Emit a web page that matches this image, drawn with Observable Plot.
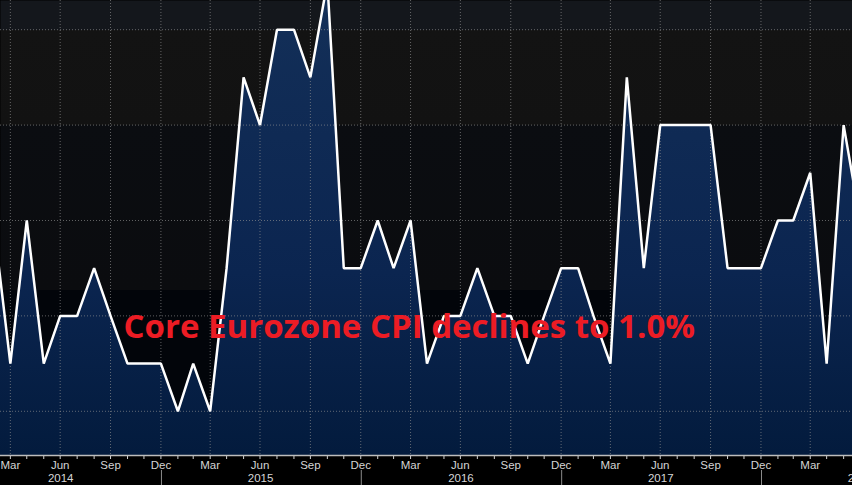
<!DOCTYPE html>
<html><head><meta charset="utf-8">
<script src="https://cdn.jsdelivr.net/npm/d3@7"></script>
<script src="https://cdn.jsdelivr.net/npm/@observablehq/plot@0.6"></script>
<style>html,body{margin:0;padding:0;background:#000;overflow:hidden} #chart svg{display:block}</style>
</head><body><div id="chart"></div>
<script>
// Monthly series (month-end readings)
const months = [
  "2014-02","2014-03","2014-04","2014-05","2014-06","2014-07","2014-08","2014-09","2014-10","2014-11","2014-12",
  "2015-01","2015-02","2015-03","2015-04","2015-05","2015-06","2015-07","2015-08","2015-09","2015-10","2015-11","2015-12",
  "2016-01","2016-02","2016-03","2016-04","2016-05","2016-06","2016-07","2016-08","2016-09","2016-10","2016-11","2016-12",
  "2017-01","2017-02","2017-03","2017-04","2017-05","2017-06","2017-07","2017-08","2017-09","2017-10","2017-11","2017-12",
  "2018-01","2018-02","2018-03","2018-04","2018-05","2018-06"
];
const values = [
  1.0, 0.7, 1.0, 0.7, 0.8, 0.8, 0.9, 0.8, 0.7, 0.7, 0.7,
  0.6, 0.7, 0.6, 0.9, 1.3, 1.2, 1.4, 1.4, 1.3, 1.5, 0.9, 0.9,
  1.0, 0.9, 1.0, 0.7, 0.8, 0.8, 0.9, 0.8, 0.8, 0.7, 0.8, 0.9,
  0.9, 0.8, 0.7, 1.3, 0.9, 1.2, 1.2, 1.2, 1.2, 0.9, 0.9, 0.9,
  1.0, 1.0, 1.1, 0.7, 1.2, 1.0
];
const monthNames = ["Jan","Feb","Mar","Apr","May","Jun","Jul","Aug","Sep","Oct","Nov","Dec"];
const quarterLabels = ["Mar","Jun","Sep","Dec"];
const years = ["2014","2015","2016","2017","2018"];
const gridValues = [0.6, 0.8, 1.0, 1.2, 1.4];
const title = "Core Eurozone CPI declines to 1.0%";

const monthEnd = s => { const [y, m] = s.split("-").map(Number); return new Date(Date.UTC(y, m, 0)); };
const data = months.map((m, i) => ({date: monthEnd(m), value: values[i]}));

const xDomain = [new Date(Date.UTC(2014, 2, 13)), new Date(Date.UTC(2018, 5, 16, 5))];
const yDomain = [0.5073, 1.4612];

const monthTicks = d3.utcMonths(new Date(Date.UTC(2014, 2, 1)), new Date(Date.UTC(2018, 5, 1)))
  .map(d => d3.utcDay.offset(d3.utcMonth.offset(d, 1), -1));
const quarterTicks = monthTicks.filter(d => quarterLabels.includes(monthNames[d.getUTCMonth()]));
const yearMid = years.map(y => ({year: y, date: new Date(Date.UTC(+y, 6, 1))}));
const yearStarts = years.slice(1).map(y => new Date(Date.UTC(+y, 0, 1)));

const gridStyle = {stroke: "#929292", strokeOpacity: 0.65, strokeDasharray: "1,2", strokeWidth: 1};

const chart = Plot.plot({
  width: 852, height: 485,
  marginTop: 0, marginRight: 0, marginLeft: 0, marginBottom: 30,
  style: {background: "#000", color: "#d4d4d4", fontFamily: "'Liberation Sans', Arial, sans-serif", fontSize: "11.5px"},
  x: {type: "utc", domain: xDomain, ticks: monthTicks, label: null,
      tickFormat: d => { const n = monthNames[d.getUTCMonth()]; return quarterLabels.includes(n) ? n : ""; },
      tickSize: 4, tickPadding: 1},
  y: {domain: yDomain, axis: null},
  marks: [
    Plot.frame({fill: "url(#bgGrad)", stroke: "none"}),
    Plot.areaY(data, {x: "date", y1: yDomain[0], y2: "value", fill: "url(#areaGrad)", clip: true}),
    Plot.ruleY(gridValues, gridStyle),
    Plot.ruleX(quarterTicks, gridStyle),
    Plot.lineY(data, {x: "date", y: "value", stroke: "#ffffff", strokeWidth: 2.5, strokeLinejoin: "miter", clip: true}),
    Plot.ruleY([yDomain[0]], {stroke: "#bdbdbd", strokeWidth: 1.5}),
    Plot.ruleX(yearStarts, {stroke: "#8a8a8a", insetTop: 470, insetBottom: -30}),
    Plot.text(yearMid, {x: "date", text: "year", frameAnchor: "bottom", dy: 23, fill: "#d6d6d6", fontSize: 11.5, lineAnchor: "middle"}),
    Plot.text([title], {frameAnchor: "top-left", dx: 123, dy: 327, text: d => d, textAnchor: "start", lineAnchor: "middle",
      fill: "#ec1c24", fontSize: 33, fontWeight: "bold", fontFamily: "'Open Sans', sans-serif"})
  ]
});

document.getElementById("chart").appendChild(chart);

// gradients
const ys = chart.scale("y");
const [yb] = ys.range;
const f = v => ys.apply(v) / yb;
const defs = d3.select(chart).insert("defs", ":first-child");
const bg = defs.append("linearGradient").attr("id", "bgGrad").attr("gradientUnits", "userSpaceOnUse")
  .attr("x1", 0).attr("x2", 0).attr("y1", 0).attr("y2", yb);
[[0, "#14171c"], [f(1.4), "#14171c"], [f(1.4), "#131313"], [f(1.2), "#121212"], [f(1.2), "#0b0d11"],
 [f(0.855), "#0b0c0f"], [f(0.855), "#02050a"], [1, "#02050a"]]
  .forEach(([o, c]) => bg.append("stop").attr("offset", o).attr("stop-color", c));
const ag = defs.append("linearGradient").attr("id", "areaGrad").attr("gradientUnits", "userSpaceOnUse")
  .attr("x1", 0).attr("x2", 0).attr("y1", 0).attr("y2", yb);
[[0, "#132f58"], [0.6, "#0b2550"], [1, "#031b3d"]]
  .forEach(([o, c]) => ag.append("stop").attr("offset", o).attr("stop-color", c));
</script>
</body></html>
